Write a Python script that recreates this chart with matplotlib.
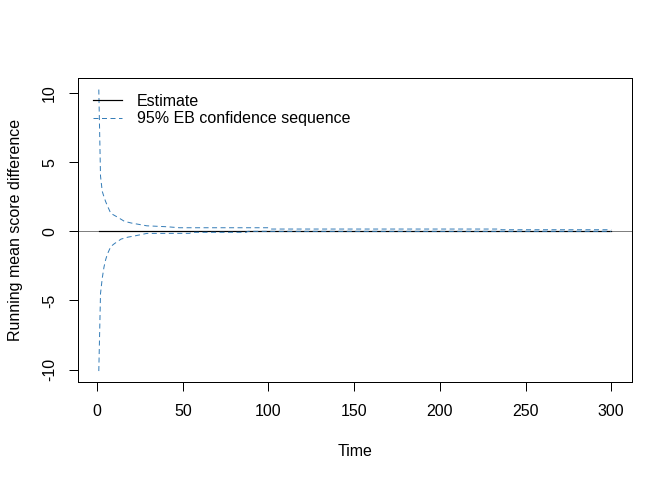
import matplotlib
matplotlib.use("Agg")
import matplotlib.pyplot as plt
import numpy as np

plt.rcParams['font.family'] = ['Liberation Sans', 'DejaVu Sans']
plt.rcParams['axes.unicode_minus'] = False

# Data
est_t = [1, 50, 100, 150, 200, 250, 300]
est_v = [0.06, 0.06, 0.06, 0.06, 0.06, 0.06, 0.06]

up_t = [1, 2, 3, 4, 5, 6, 8, 12, 16, 20, 29, 41, 48, 100, 101, 235, 236, 300]
up_v = [10.25, 4.0, 2.9, 2.5, 2.15, 1.85, 1.3, 1.02, 0.72, 0.6, 0.4, 0.33, 0.26,
        0.26, 0.166, 0.166, 0.116, 0.116]

lo_t = [1, 2, 3, 4, 5, 6, 8, 10, 14, 18, 22, 29, 54, 55, 87, 88, 300]
lo_v = [-10.1, -4.5, -3.4, -2.6, -2.05, -1.65, -1.1, -0.9, -0.56, -0.42, -0.33,
        -0.15, -0.145, -0.07, -0.07, 0.0, 0.0]

x_ticks = [0, 50, 100, 150, 200, 250, 300]
y_ticks = [-10, -5, 0, 5, 10]

blue = '#377EB8'

fig = plt.figure(figsize=(7, 5), dpi=96)
W, H = 672, 480
L, R, T, B = 78.3, 631.7, 78.3, 382.3
ax = fig.add_axes([L / W, 1 - B / H, (R - L) / W, (B - T) / H])

ax.axhline(0, color='#808080', lw=0.75, zorder=1)
ax.plot(est_t, est_v, color='black', lw=0.9, label='Estimate', zorder=2)
ax.plot(up_t, up_v, color=blue, lw=0.75, dashes=(5, 3.5),
        label='95% EB confidence sequence', zorder=3)
ax.plot(lo_t, lo_v, color=blue, lw=0.75, dashes=(5, 3.5), zorder=3)

# R-style 4% axis extension
xmin, xmax = 1, 300
dx = (xmax - xmin) * 0.04
ax.set_xlim(xmin - dx, xmax + dx)
ymin, ymax = min(lo_v), max(up_v)
dy = (ymax - ymin) * 0.04
ax.set_ylim(ymin - dy, ymax + dy)

ax.set_xticks(x_ticks)
ax.set_yticks(y_ticks)
ax.tick_params(axis='both', direction='out', length=7, width=0.75,
               labelsize=12, pad=9, colors='black')
for lab in ax.get_yticklabels():
    lab.set_rotation(90)
    lab.set_va('center')
for s in ax.spines.values():
    s.set_linewidth(0.75)
    s.set_color('black')

ax.set_xlabel('Time', fontsize=12, labelpad=19)
ax.set_ylabel('Running mean score difference', fontsize=12, labelpad=14.5)

ax.legend(loc='upper left', bbox_to_anchor=(0.0266, 0.949), frameon=False,
          fontsize=12, borderpad=0, borderaxespad=0, handlelength=1.8,
          handletextpad=0.94, labelspacing=0.15)

fig.savefig('out.png', dpi=96)
